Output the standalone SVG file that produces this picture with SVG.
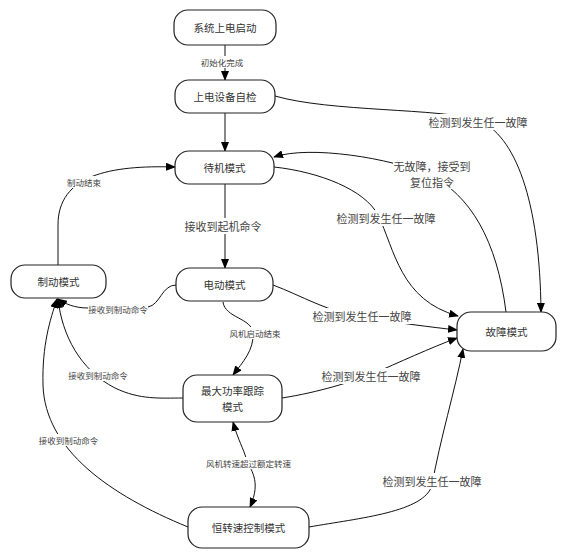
<svg xmlns="http://www.w3.org/2000/svg" width="567" height="559" viewBox="0 0 567 559">
<style>
.node rect{fill:#fff;stroke:#222;stroke-width:1.2}
.node text{font-family:"Noto Sans CJK SC","Liberation Sans",sans-serif;font-size:10.5px;fill:#333;text-anchor:middle;dominant-baseline:central}
.edges path{fill:none;stroke:#111;stroke-width:1}
.edges rect{fill:#fff;stroke:none}
.lbl{font-family:"Noto Sans CJK SC","Liberation Sans",sans-serif;font-size:11px;fill:#444;text-anchor:middle;dominant-baseline:central}
.sm{font-size:8.5px}
</style>
<defs>
<marker id="ah" markerUnits="userSpaceOnUse" markerWidth="10" markerHeight="8" refX="9" refY="4" orient="auto-start-reverse">
<path d="M0,0 L10,4 L0,8 z" fill="#000"/>
</marker>
</defs>
<g class="edges">
<path d="M225,45 L225,80" marker-end="url(#ah)"/>
<path d="M225,113 L225,151" marker-end="url(#ah)"/>
<path d="M275,96 C330,112 440,108 478,120 C515,135 540,200 541,312" marker-end="url(#ah)"/>
<path d="M506,312 C497,240 470,195 430,175 C390,158 310,145 274,157" marker-end="url(#ah)"/>
<path d="M274,167 C320,172 365,190 378,215 C395,250 400,300 458,316" marker-end="url(#ah)"/>
<path d="M225,184 L225,268" marker-end="url(#ah)"/>
<path d="M273,285 C300,295 330,313 365,318 C400,323 430,327 457,330" marker-end="url(#ah)"/>
<path d="M282,398 C320,392 350,382 370,375 C400,362 430,348 457,338" marker-end="url(#ah)"/>
<path d="M309,527 C360,518 425,512 432,485 C440,440 455,390 463,349" marker-end="url(#ah)"/>
<path d="M176,285 C162,285 160,305 148,307 L88,308 C75,308 65,304 58,299" marker-end="url(#ah)"/>
<path d="M183,398 C160,398 140,400 115,388 C80,370 62,335 58,299" marker-end="url(#ah)"/>
<path d="M188,527 C110,495 45,450 43,385 C42,345 50,320 57,299" marker-end="url(#ah)"/>
<path d="M223,302 C225,318 252,318 253,333 C254,350 243,362 233,375" marker-end="url(#ah)"/>
<path d="M58,265 L58,225 C58,175 110,165 175,167" marker-end="url(#ah)"/>
<path d="M233,422 C238,440 244,450 246,458 C250,470 262,480 250,507" marker-start="url(#ah)" marker-end="url(#ah)"/>
<rect x="200" y="56" width="44" height="12"/>
<rect x="427.5" y="114" width="101" height="16"/>
<rect x="393" y="158" width="78" height="31"/>
<rect x="335.5" y="210" width="101" height="16"/>
<rect x="184" y="218" width="78" height="16"/>
<rect x="311.5" y="308" width="101" height="16"/>
<rect x="320.5" y="368" width="101" height="16"/>
<rect x="381.5" y="473" width="101" height="16"/>
<rect x="88" y="303" width="60" height="12"/>
<rect x="68" y="369" width="60" height="12"/>
<rect x="38.5" y="434" width="60" height="12"/>
<rect x="229" y="327" width="52" height="12"/>
<rect x="67" y="176" width="34" height="12"/>
<rect x="206" y="457" width="85" height="12"/>
<text class="lbl sm" x="222" y="62">初始化完成</text>
<text class="lbl" x="478" y="122">检测到发生任一故障</text>
<text class="lbl" x="432" y="166">无故障，接受到</text>
<text class="lbl" x="432" y="182">复位指令</text>
<text class="lbl" x="386" y="218">检测到发生任一故障</text>
<text class="lbl" x="223" y="226">接收到起机命令</text>
<text class="lbl" x="362" y="316">检测到发生任一故障</text>
<text class="lbl" x="371" y="376">检测到发生任一故障</text>
<text class="lbl" x="432" y="481">检测到发生任一故障</text>
<text class="lbl sm" x="118" y="309">接收到制动命令</text>
<text class="lbl sm" x="98" y="375">接收到制动命令</text>
<text class="lbl sm" x="68.5" y="440">接收到制动命令</text>
<text class="lbl sm" x="255" y="333">风机启动结束</text>
<text class="lbl sm" x="84" y="182">制动结束</text>
<text class="lbl sm" x="248.5" y="463">风机转速超过额定转速</text>
</g>
<g id="n1" class="node"><rect x="174" y="10" width="102" height="35" rx="14"/><text x="225" y="27.5">系统上电启动</text></g>
<g id="n2" class="node"><rect x="175" y="80" width="100" height="33" rx="14"/><text x="225" y="96.5">上电设备自检</text></g>
<g id="n3" class="node"><rect x="175" y="151" width="99" height="33" rx="14"/><text x="224.5" y="167.5">待机模式</text></g>
<g id="n4" class="node"><rect x="176" y="268" width="97" height="33" rx="14"/><text x="224.5" y="284.5">电动模式</text></g>
<g id="n5" class="node"><rect x="11" y="265" width="95" height="33" rx="14"/><text x="58.5" y="281.5">制动模式</text></g>
<g id="n6" class="node"><rect x="183" y="375" width="99" height="47" rx="14"/><text x="232.5" y="390">最大功率跟踪</text><text x="232.5" y="406">模式</text></g>
<g id="n7" class="node"><rect x="188" y="507" width="121" height="41" rx="14"/><text x="248.5" y="527.5">恒转速控制模式</text></g>
<g id="n8" class="node"><rect x="457" y="312" width="99" height="39" rx="14"/><text x="506.5" y="331.5">故障模式</text></g>
</svg>
